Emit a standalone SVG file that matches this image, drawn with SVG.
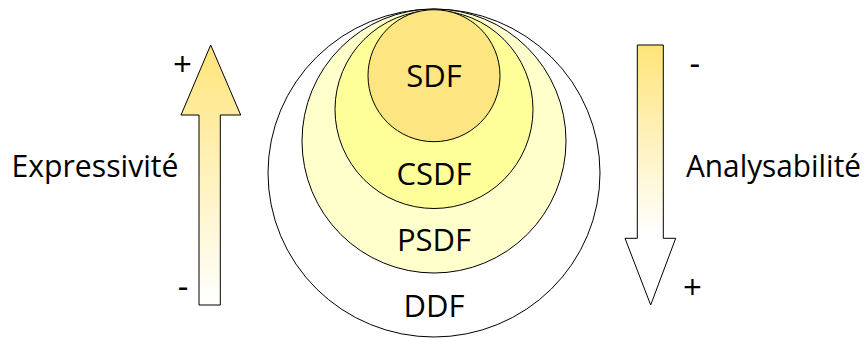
<svg xmlns="http://www.w3.org/2000/svg" width="868" height="338" viewBox="0 0 868 338">
<style>
text{font-family:"Open Sans","Liberation Sans",sans-serif;fill:#000;}
.lbl{font-size:31px;text-anchor:middle;}
.side{font-size:31px;}
.sign{font-size:33px;text-anchor:middle;}
.ring{stroke:#000;stroke-width:1;}
.arr{stroke:#000;stroke-width:1;}
</style>
<defs>
<linearGradient id="gUp" gradientUnits="userSpaceOnUse" x1="0" y1="45" x2="0" y2="305">
<stop offset="0" stop-color="#FFE47A"/>
<stop offset="1" stop-color="#FFFFFF"/>
</linearGradient>
<linearGradient id="gDown" gradientUnits="userSpaceOnUse" x1="0" y1="45" x2="0" y2="235">
<stop offset="0" stop-color="#FFE47A"/>
<stop offset="1" stop-color="#FFFFFF"/>
</linearGradient>
</defs>
<g id="ddf">
<ellipse class="ring" cx="434" cy="173" rx="166" ry="164" fill="#FFFFFF"/>
<text class="lbl" x="434" y="317">DDF</text>
</g>
<g id="psdf">
<circle class="ring" cx="434" cy="141" r="132" fill="#FFFFCC"/>
<text class="lbl" x="434" y="251">PSDF</text>
</g>
<g id="csdf">
<circle class="ring" cx="434" cy="109.5" r="99" fill="#FFFF99"/>
<text class="lbl" x="434" y="185">CSDF</text>
</g>
<g id="sdf">
<circle class="ring" cx="434" cy="75.7" r="66" fill="#FDE682"/>
<text class="lbl" x="434" y="87">SDF</text>
</g>
<g id="expressivite">
<path class="arr" d="M210.7,45 L240.7,115 L220.3,115 L220.3,305 L199,305 L199,115 L181,115 Z" fill="url(#gUp)"/>
<text class="side" x="11.5" y="177.3" textLength="167" lengthAdjust="spacingAndGlyphs">Expressivité</text>
<text class="sign" x="182.5" y="76">+</text>
<text class="sign" x="183" y="298">-</text>
</g>
<g id="analysabilite">
<path class="arr" d="M637.3,45 L663.3,45 L663.3,238.3 L675.7,238.3 L650.7,305 L625,238.3 L637.3,238.3 Z" fill="url(#gDown)"/>
<text class="side" x="686" y="177.3" textLength="175" lengthAdjust="spacingAndGlyphs">Analysabilité</text>
<text class="sign" x="694.7" y="75">-</text>
<text class="sign" x="692.5" y="299">+</text>
</g>
<g id="connectors"></g>
</svg>
